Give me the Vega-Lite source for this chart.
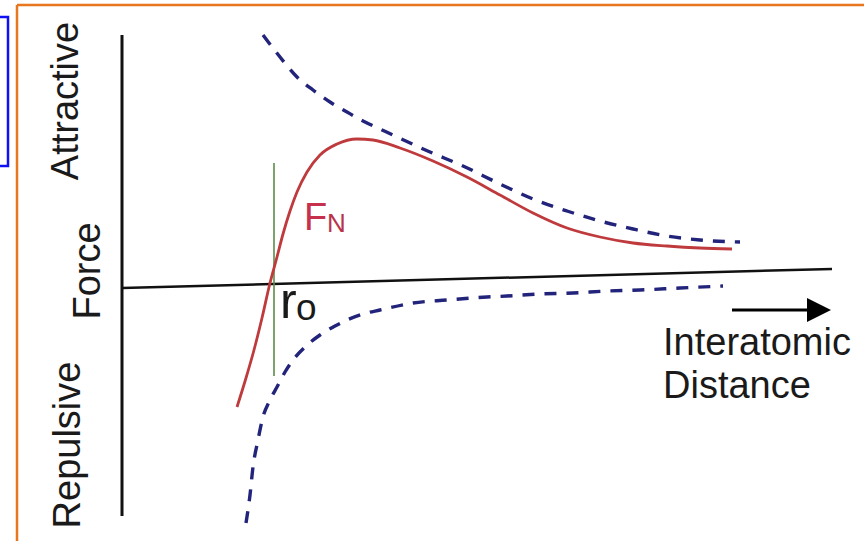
{
  "$schema": "https://vega.github.io/schema/vega-lite/v6.json",
  "width": 864,
  "height": 541,
  "autosize": {"type": "none"},
  "padding": 0,
  "background": "white",
  "config": {"view": {"stroke": null}, "text": {"font": "Liberation Sans"}},
  "datasets": {
    "border": [{"x": 17, "y": 5, "x2": 864, "y2": 5}, {"x": 17, "y": 5, "x2": 17, "y2": 541}],
    "bluebox": [{"x": -6, "y": 17, "x2": 8, "y2": 166}],
    "axisv": [{"x": 122, "y": 35, "x2": 122, "y2": 516}],
    "axish": [{"x": 122, "y": 288, "x2": 832, "y2": 269}],
    "green": [{"x": 274, "y": 163, "x2": 274, "y2": 376}],
    "shaft": [{"x": 732, "y": 310, "x2": 812, "y2": 310}],
    "head": [{"x": 819, "y": 310}],
    "upper": [
      {"x": 263, "y": 35}, {"x": 280, "y": 57}, {"x": 297, "y": 77}, {"x": 313, "y": 90},
      {"x": 330, "y": 102}, {"x": 347, "y": 112}, {"x": 363, "y": 121}, {"x": 380, "y": 129},
      {"x": 397, "y": 137}, {"x": 430, "y": 152}, {"x": 463, "y": 166}, {"x": 500, "y": 184},
      {"x": 533, "y": 199}, {"x": 567, "y": 211}, {"x": 600, "y": 221}, {"x": 633, "y": 229},
      {"x": 667, "y": 236}, {"x": 700, "y": 240}, {"x": 740, "y": 242}
    ],
    "lower": [
      {"x": 246, "y": 523}, {"x": 250, "y": 495}, {"x": 253, "y": 467}, {"x": 258, "y": 440},
      {"x": 263, "y": 417}, {"x": 270, "y": 400}, {"x": 277, "y": 387}, {"x": 285, "y": 372},
      {"x": 293, "y": 360}, {"x": 305, "y": 347}, {"x": 320, "y": 335}, {"x": 335, "y": 326},
      {"x": 347, "y": 320}, {"x": 363, "y": 314}, {"x": 380, "y": 310}, {"x": 413, "y": 303},
      {"x": 447, "y": 300}, {"x": 487, "y": 297}, {"x": 507, "y": 296}, {"x": 540, "y": 294},
      {"x": 573, "y": 293}, {"x": 607, "y": 291}, {"x": 640, "y": 290}, {"x": 680, "y": 288},
      {"x": 723, "y": 286}
    ],
    "fn": [
      {"x": 237, "y": 407}, {"x": 246, "y": 378}, {"x": 254, "y": 350}, {"x": 262, "y": 318},
      {"x": 270, "y": 283}, {"x": 277, "y": 257}, {"x": 283, "y": 234}, {"x": 290, "y": 211},
      {"x": 297, "y": 192}, {"x": 307, "y": 172}, {"x": 320, "y": 155}, {"x": 337, "y": 144},
      {"x": 357, "y": 139}, {"x": 373, "y": 140}, {"x": 400, "y": 148}, {"x": 433, "y": 161},
      {"x": 467, "y": 177}, {"x": 500, "y": 195}, {"x": 533, "y": 213}, {"x": 567, "y": 228},
      {"x": 600, "y": 237}, {"x": 633, "y": 243}, {"x": 667, "y": 246}, {"x": 700, "y": 248},
      {"x": 732, "y": 249}
    ],
    "rotlabels": [
      {"x": 78, "y": 101, "t": "Attractive"},
      {"x": 100, "y": 271, "t": "Force"},
      {"x": 80, "y": 445, "t": "Repulsive"}
    ],
    "xlabel": [
      {"x": 663, "y": 355, "t": "Interatomic"},
      {"x": 663, "y": 398, "t": "Distance"}
    ],
    "fbig": [{"x": 304, "y": 230, "t": "F"}],
    "fsub": [{"x": 327, "y": 232, "t": "N"}],
    "rbig": [{"x": 280, "y": 318, "t": "r"}],
    "rsub": [{"x": 296, "y": 320, "t": "o"}]
  },
  "encoding": {
    "x": {"field": "x", "type": "quantitative", "scale": {"domain": [0, 864], "nice": false, "zero": false}, "axis": null},
    "y": {"field": "y", "type": "quantitative", "scale": {"domain": [0, 541], "nice": false, "zero": false, "reverse": true}, "axis": null}
  },
  "layer": [
    {"data": {"name": "border"}, "mark": {"type": "rule", "color": "#E8761F", "strokeWidth": 2.5}, "encoding": {"x2": {"field": "x2"}, "y2": {"field": "y2"}}},
    {"data": {"name": "bluebox"}, "mark": {"type": "rect", "fill": null, "fillOpacity": 0, "stroke": "#1010F5", "strokeWidth": 2.5}, "encoding": {"x2": {"field": "x2"}, "y2": {"field": "y2"}}},
    {"data": {"name": "axisv"}, "mark": {"type": "rule", "color": "#111111", "strokeWidth": 3}, "encoding": {"x2": {"field": "x2"}, "y2": {"field": "y2"}}},
    {"data": {"name": "axish"}, "mark": {"type": "rule", "color": "#111111", "strokeWidth": 2.5}, "encoding": {"x2": {"field": "x2"}, "y2": {"field": "y2"}}},
    {"data": {"name": "green"}, "mark": {"type": "rule", "color": "#5C8C4A", "strokeWidth": 1.6}, "encoding": {"x2": {"field": "x2"}, "y2": {"field": "y2"}}},
    {"data": {"name": "upper"}, "mark": {"type": "line", "color": "#22237A", "strokeWidth": 3.4, "strokeDash": [12, 10], "interpolate": "monotone"}},
    {"data": {"name": "lower"}, "mark": {"type": "line", "color": "#22237A", "strokeWidth": 3.4, "strokeDash": [12, 10], "interpolate": "monotone"}},
    {"data": {"name": "fn"}, "mark": {"type": "line", "color": "#BF3A3C", "strokeWidth": 2.8, "interpolate": "monotone"}},
    {"data": {"name": "shaft"}, "mark": {"type": "rule", "color": "#000000", "strokeWidth": 3}, "encoding": {"x2": {"field": "x2"}, "y2": {"field": "y2"}}},
    {"data": {"name": "head"}, "mark": {"type": "point", "shape": "M-1,-1L1,0L-1,1Z", "size": 576, "filled": true, "color": "#000000", "opacity": 1}},
    {"data": {"name": "rotlabels"}, "mark": {"type": "text", "angle": 270, "align": "center", "baseline": "alphabetic", "fontSize": 38, "color": "#1a1a1a"}, "encoding": {"text": {"field": "t"}}},
    {"data": {"name": "xlabel"}, "mark": {"type": "text", "align": "left", "baseline": "alphabetic", "fontSize": 38, "color": "#1a1a1a"}, "encoding": {"text": {"field": "t"}}},
    {"data": {"name": "fbig"}, "mark": {"type": "text", "align": "left", "baseline": "alphabetic", "fontSize": 38, "color": "#C7304C"}, "encoding": {"text": {"field": "t"}}},
    {"data": {"name": "fsub"}, "mark": {"type": "text", "align": "left", "baseline": "alphabetic", "fontSize": 26, "color": "#B8344C"}, "encoding": {"text": {"field": "t"}}},
    {"data": {"name": "rbig"}, "mark": {"type": "text", "align": "left", "baseline": "alphabetic", "fontSize": 50, "color": "#1a1a1a"}, "encoding": {"text": {"field": "t"}}},
    {"data": {"name": "rsub"}, "mark": {"type": "text", "align": "left", "baseline": "alphabetic", "fontSize": 37, "color": "#1a1a1a"}, "encoding": {"text": {"field": "t"}}}
  ]
}
